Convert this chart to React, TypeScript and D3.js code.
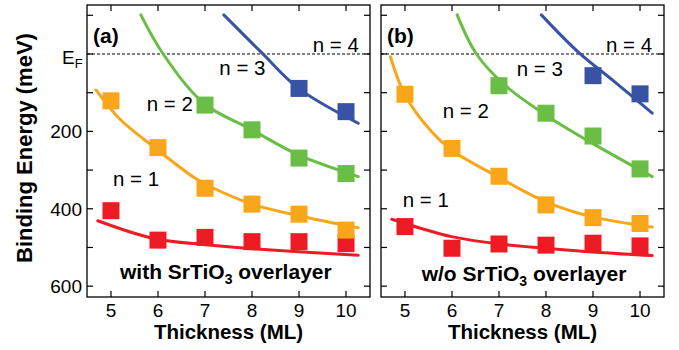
import React from 'react';
import * as d3 from 'd3';

// ---------- data ----------
const thicknessAll = [5, 6, 7, 8, 9, 10];
const thicknessN3 = [7, 8, 9, 10];
const thicknessN4 = [9, 10];

// panel (a): with SrTiO3 overlayer (binding energy, meV)
const withN1 = [405, 481, 474, 485, 485, 490];
const withN2 = [121, 242, 347, 388, 414, 455];
const withN3 = [132, 196, 269, 309];
const withN4 = [89, 149];

// panel (b): w/o SrTiO3 overlayer
const woN1 = [446, 502, 491, 494, 489, 496];
const woN2 = [104, 244, 316, 390, 423, 438];
const woN3 = [82, 153, 212, 297];
const woN4 = [56, 103];

// fitted curves, points [thickness, meV]
const withFitN1: [number, number][] = [[4.72, 431], [5.88, 476], [7.01, 493], [8.0, 503], [8.99, 511], [10.26, 520]];
const withFitN2: [number, number][] = [[4.68, 93], [5.17, 166], [5.95, 244], [6.8, 322], [7.15, 345], [8.0, 388], [8.99, 418], [10.26, 449]];
const withFitN3: [number, number][] = [[5.635, -101], [6.11, 0], [6.98, 128], [8.0, 196], [8.99, 261], [10.26, 317]];
const withFitN4: [number, number][] = [[7.4, -101], [8.2, -4], [8.99, 89], [10.26, 179]];

const woFitN1: [number, number][] = [[4.72, 427], [5.46, 455], [5.99, 472], [7.01, 491], [8.0, 502], [8.99, 512], [10.26, 521]];
const woFitN2: [number, number][] = [[4.69, 7], [5.0, 106], [5.53, 196], [5.99, 248], [7.0, 319], [8.0, 382], [8.99, 421], [10.26, 447]];
const woFitN3: [number, number][] = [[6.11, -101], [6.52, 0], [7.12, 80], [8.0, 158], [8.99, 231], [10.26, 317]];
const woFitN4: [number, number][] = [[7.9, -101], [8.71, -2], [9.41, 67], [10.26, 153]];

const yTicks = [-100, 0, 100, 200, 300, 400, 500, 600];
const yTickLabels = [200, 400, 600];
const xTicks = [5, 6, 7, 8, 9, 10];

const COLORS = { n1: '#ed1c24', n2: '#f9a61b', n3: '#6abd45', n4: '#3953a4' };
const FONT = "'Liberation Sans', Arial, Helvetica, sans-serif";

// ---------- layout ----------
const W = 679, H = 350;
const TOP = 5, BOTTOM = 297;
const yScale = d3.scaleLinear().domain([-126.6, 628]).range([TOP, BOTTOM]);
const SQ = 17;
const TICK = 6;

type Series = { xs: number[]; ys: number[]; fit: [number, number][]; color: string };

interface PanelProps {
  left: number;
  right: number;
  tag: string;
  series: Series[];
  labels: { text: string; x: number; y: number }[];
  capPre: string;
  capPost: string;
  captionX: number;
  captionY: number;
  showYLabels: boolean;
}

function Panel(p: PanelProps) {
  const x = d3.scaleLinear().domain([4.49, 10.51]).range([p.left, p.right]);
  const line = d3
    .line<[number, number]>()
    .x((d) => x(d[0]))
    .y((d) => yScale(d[1]))
    .curve(d3.curveCatmullRom.alpha(0.5));
  const cx = (p.left + p.right) / 2;
  return (
    <g>
      <line x1={p.left} x2={p.right} y1={yScale(0)} y2={yScale(0)} stroke="#000" strokeWidth={1} strokeDasharray="3,2" />
      {p.series.map((s, i) => (
        <path key={'c' + i} d={line(s.fit) || ''} fill="none" stroke={s.color} strokeWidth={3} strokeLinecap="round" />
      ))}
      {p.series.map((s, i) =>
        s.xs.map((t, j) => (
          <rect key={'s' + i + '-' + j} x={x(t) - SQ / 2} y={yScale(s.ys[j]) - SQ / 2} width={SQ} height={SQ} fill={s.color} />
        ))
      )}
      <rect x={p.left} y={TOP} width={p.right - p.left} height={BOTTOM - TOP} fill="none" stroke="#000" strokeWidth={1.3} />
      {xTicks.map((t) => (
        <g key={'xt' + t}>
          <line x1={x(t)} x2={x(t)} y1={BOTTOM} y2={BOTTOM - TICK} stroke="#000" strokeWidth={1.2} />
          <line x1={x(t)} x2={x(t)} y1={TOP} y2={TOP + TICK} stroke="#000" strokeWidth={1.2} />
          <text x={x(t)} y={317} textAnchor="middle" fontSize={19} fontFamily={FONT}>{t}</text>
        </g>
      ))}
      {yTicks.map((t) => (
        <g key={'yt' + t}>
          <line x1={p.left} x2={p.left + TICK} y1={yScale(t)} y2={yScale(t)} stroke="#000" strokeWidth={1.2} />
          <line x1={p.right} x2={p.right - TICK} y1={yScale(t)} y2={yScale(t)} stroke="#000" strokeWidth={1.2} />
        </g>
      ))}
      {p.showYLabels && (
        <g>
          {yTickLabels.map((t) => (
            <text key={'yl' + t} x={p.left - 5} y={yScale(t)} dy="0.36em" textAnchor="end" fontSize={19} fontFamily={FONT}>{t}</text>
          ))}
          <text x={p.left - 25} y={yScale(0) + 10} fontSize={19} fontFamily={FONT}>
            E<tspan fontSize={13} dy={4}>F</tspan>
          </text>
        </g>
      )}
      <text x={p.left + 6} y={43} fontSize={21} fontWeight="bold" fontFamily={FONT}>{p.tag}</text>
      {p.labels.map((l, i) => (
        <text key={'nl' + i} x={l.x} y={l.y} fontSize={20.5} fontFamily={FONT}>{l.text}</text>
      ))}
      <text x={p.captionX} y={p.captionY} fontSize={21} fontWeight="bold" fontFamily={FONT}>
        {p.capPre}
        <tspan fontSize={14} dy={5}>3</tspan>
        <tspan dy={-5}>{p.capPost}</tspan>
      </text>
      <text x={cx} y={339} textAnchor="middle" fontSize={20.5} fontWeight="bold" fontFamily={FONT}>Thickness (ML)</text>
    </g>
  );
}

export default function App() {
  const seriesA: Series[] = [
    { xs: thicknessAll, ys: withN1, fit: withFitN1, color: COLORS.n1 },
    { xs: thicknessAll, ys: withN2, fit: withFitN2, color: COLORS.n2 },
    { xs: thicknessN3, ys: withN3, fit: withFitN3, color: COLORS.n3 },
    { xs: thicknessN4, ys: withN4, fit: withFitN4, color: COLORS.n4 },
  ];
  const seriesB: Series[] = [
    { xs: thicknessAll, ys: woN1, fit: woFitN1, color: COLORS.n1 },
    { xs: thicknessAll, ys: woN2, fit: woFitN2, color: COLORS.n2 },
    { xs: thicknessN3, ys: woN3, fit: woFitN3, color: COLORS.n3 },
    { xs: thicknessN4, ys: woN4, fit: woFitN4, color: COLORS.n4 },
  ];
  return (
    <div style={{ position: 'absolute', left: 0, top: 0 }}>
      <svg width={W} height={H} viewBox={`0 0 ${W} ${H}`} style={{ display: 'block', background: '#fff' }}>
        <text transform={`translate(32,148) rotate(-90)`} textAnchor="middle" fontSize={22} fontWeight="bold" fontFamily={FONT}>
          Binding Energy (meV)
        </text>
        <Panel
          left={87}
          right={370}
          tag="(a)"
          series={seriesA}
          labels={[
            { text: 'n = 1', x: 113, y: 186 },
            { text: 'n = 2', x: 146.7, y: 111 },
            { text: 'n = 3', x: 219.3, y: 75 },
            { text: 'n = 4', x: 312.7, y: 52 },
          ]}
          capPre="with SrTiO"
          capPost=" overlayer"
          captionX={120}
          captionY={279}
          showYLabels={true}
        />
        <Panel
          left={381}
          right={664}
          tag="(b)"
          series={seriesB}
          labels={[
            { text: 'n = 1', x: 402.7, y: 207 },
            { text: 'n = 2', x: 442.7, y: 118 },
            { text: 'n = 3', x: 516.7, y: 76 },
            { text: 'n = 4', x: 606, y: 52 },
          ]}
          capPre="w/o SrTiO"
          capPost=" overlayer"
          captionX={421.7}
          captionY={281}
          showYLabels={false}
        />
      </svg>
    </div>
  );
}
